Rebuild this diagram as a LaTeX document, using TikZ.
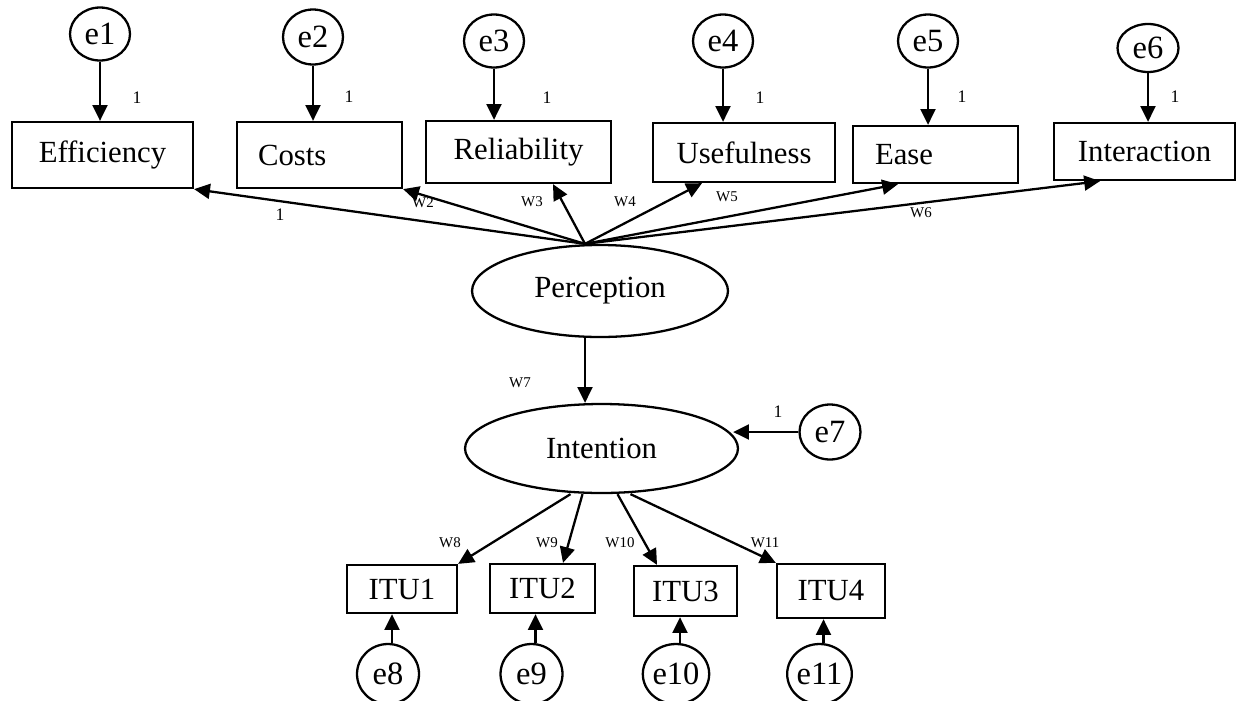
\documentclass[tikz,border=0pt]{standalone}
\usepackage{fontspec}
\setmainfont{Liberation Serif}
\usepackage{tikz}
\usetikzlibrary{arrows.meta, shapes.geometric}
\tikzstyle{obs}=[%
      rectangle, draw=black, line width=1.3pt, fill=none,
      inner sep=0pt, font=\fontsize{17.5}{20}\selectfont
]
\tikzstyle{lat}=[%
      ellipse, draw=black, line width=1.3pt, fill=none,
      inner sep=0pt, font=\fontsize{17.5}{20}\selectfont
]
\tikzstyle{err}=[%
      lat, minimum width=1.2cm, minimum height=1.06cm, font=\fontsize{18.5}{20}\selectfont
]
\tikzstyle{wt}=[font=\fontsize{8.5}{10}\selectfont, inner sep=0pt]
\tikzstyle{one}=[font=\fontsize{10}{12}\selectfont, inner sep=0pt]

\begin{document}
\begin{tikzpicture}[x=0.02cm, y=-0.02cm, line width=1.3pt,
    -{Triangle[length=9pt,width=8.5pt]}
  ]
    \useasboundingbox (0,0) rectangle (1236,700);

    % observed indicators of perception
    \node[obs, minimum width=3.62cm, minimum height=1.32cm] (eff) at (102.5,155) {Efficiency};
    \node[obs, minimum width=3.3cm, minimum height=1.32cm, text width=2.46cm, inner xsep=0.42cm, align=left] (cost) at (319.5,155) {Costs};
    \node[obs, minimum width=3.7cm, minimum height=1.24cm] (rel) at (518.5,152) {Reliability};
    \node[obs, minimum width=3.64cm, minimum height=1.18cm] (use) at (744,152.5) {Usefulness};
    \node[obs, minimum width=3.3cm, minimum height=1.14cm, text width=2.42cm, inner xsep=0.44cm, align=left] (ease) at (935.5,154.5) {Ease};
    \node[obs, minimum width=3.62cm, minimum height=1.14cm] (inter) at (1144.5,151.5) {Interaction};

    % error terms
    \node[err] (e1) at (100,34) {e1};
    \node[err, minimum height=1.1cm] (e2) at (313,37) {e2};
    \node[err] (e3) at (494,41) {e3};
    \node[err] (e4) at (723,41) {e4};
    \node[err] (e5) at (928,41) {e5};
    \node[err, minimum width=1.22cm, minimum height=0.96cm] (e6) at (1148,48) {e6};

    % latent variables
    \node[lat, minimum width=5.12cm, minimum height=1.84cm] (perc) at (600,291) {Perception};
    \node[lat, minimum width=5.46cm, minimum height=1.78cm] (int) at (601.5,448.5) {Intention};
    \node[err, minimum width=1.22cm, minimum height=1.1cm] (e7) at (830,432) {e7};

    % items of intention
    \node[obs, minimum width=2.2cm, minimum height=0.96cm] (itu1) at (402,589) {ITU1};
    \node[obs, minimum width=2.1cm, minimum height=0.98cm] (itu2) at (542.5,588.5) {ITU2};
    \node[obs, minimum width=2.06cm, minimum height=1.0cm] (itu3) at (685.5,591) {ITU3};
    \node[obs, minimum width=2.16cm, minimum height=1.08cm] (itu4) at (831,591) {ITU4};

    \node[err, minimum width=1.24cm, minimum height=1.2cm] (e8) at (388,674) {\raisebox{-0.12cm}{e8}\hspace{0.2cm}};
    \node[err, minimum width=1.24cm, minimum height=1.2cm] (e9) at (531.5,674) {\raisebox{-0.12cm}{e9}\hspace{0.2cm}};
    \node[err, minimum width=1.24cm, minimum height=1.2cm] (e10) at (676,674) {\raisebox{-0.12cm}{e10}};
    \node[err, minimum width=1.24cm, minimum height=1.2cm] (e11) at (819.5,674) {\raisebox{-0.12cm}{e11}};

    \coordinate (hub) at ([xshift=-0.3cm]perc.north);

    % error paths
    \draw (e1.south) -- (e1.south |- eff.north);
    \draw (e2.south) -- (e2.south |- cost.north);
    \draw (e3.south) -- (e3.south |- rel.north);
    \draw (e4.south) -- (e4.south |- use.north);
    \draw (e5.south) -- (e5.south |- ease.north);
    \draw (e6.south) -- (e6.south |- inter.north);
    \draw (e7.west) -- ([xshift=-0.12cm]e7.west -| int.east);
    \draw ([xshift=0.08cm]e8.north) -- ([xshift=0.08cm]e8.north |- itu1.south);
    \draw ([xshift=0.08cm]e9.north) -- ([xshift=0.08cm]e9.north |- itu2.south);
    \draw ([xshift=0.08cm]e10.north) -- ([xshift=0.08cm]e10.north |- itu3.south);
    \draw ([xshift=0.08cm]e11.north) -- ([xshift=0.08cm]e11.north |- itu4.south);

    % loadings
    \draw (hub) -- (eff.south east);
    \draw (hub) -- (cost.south east);
    \draw (hub) -- ([xshift=0.69cm]rel.south);
    \draw (hub) -- ([xshift=-0.84cm]use.south);
    \draw (hub) -- ([xshift=-0.75cm]ease.south);
    \draw (hub) -- ([xshift=-0.89cm]inter.south);
    \draw (hub |- perc.south) -- (hub |- int.north);
    \draw ([xshift=-0.62cm]int.south) -- (itu1.north east);
    \draw ([xshift=-0.38cm]int.south) -- ([xshift=0.41cm]itu2.north);
    \draw ([xshift=0.32cm]int.south) -- ([xshift=-0.57cm]itu3.north);
    \draw ([xshift=0.58cm]int.south) -- (itu4.north west);

    % weights
    \node[one] (f1) at (137,98) {1};
    \node[one] (f2) at (349,97) {1};
    \node[one] (f3) at (547,98) {1};
    \node[one] (f4) at (760,98) {1};
    \node[one] (f5) at (962,97) {1};
    \node[one] (f6) at (1175,97) {1};
    \node[one] (f7) at (778,412) {1};
    \node[one] (w1) at (280,215) {1};
    \node[wt] (w2) at (423,203) {W2};
    \node[wt] (w3) at (532,202) {W3};
    \node[wt] (w4) at (625,202) {W4};
    \node[wt] (w5) at (727,197) {W5};
    \node[wt] (w6) at (921,213) {W6};
    \node[wt] (w7) at (520,383) {W7};
    \node[wt] (w8) at (450,543) {W8};
    \node[wt] (w9) at (547,543) {W9};
    \node[wt] (w10) at (620,543) {W10};
    \node[wt] (w11) at (765,543) {W11};
\end{tikzpicture}
\end{document}
